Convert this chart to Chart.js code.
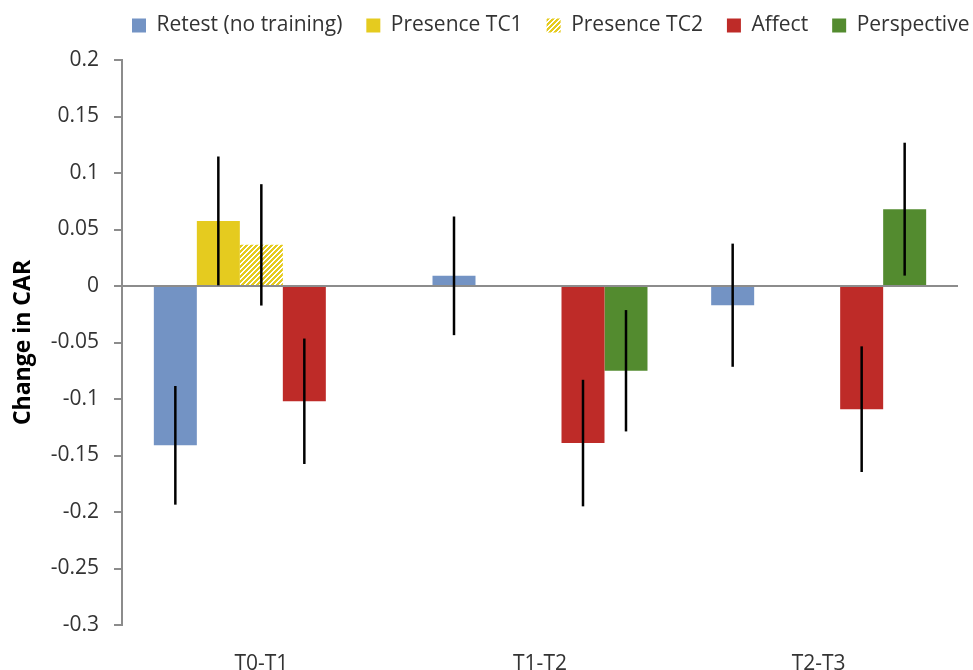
<!DOCTYPE html>
<html>
<head>
<meta charset="utf-8">
<script src="https://cdn.jsdelivr.net/npm/chart.js@4/dist/chart.umd.min.js"></script>
<style>
  html, body { margin: 0; padding: 0; background: #fff; }
  #wrap { width: 973px; height: 670px; }
</style>
</head>
<body>
<div id="wrap"><canvas id="c" width="973" height="670"></canvas></div>
<script>
// ---- data ----
const categories = ['T0-T1', 'T1-T2', 'T2-T3'];
const seriesNames = ['Retest (no training)', 'Presence TC1', 'Presence TC2', 'Affect', 'Perspective'];
const retest = [-0.141, 0.009, -0.017];
const retestErr = [0.0525, 0.0525, 0.0545];
const presenceTC1 = [0.0576, null, null];
const presenceTC1Err = [0.057, null, null];
const presenceTC2 = [0.0364, null, null];
const presenceTC2Err = [0.0537, null, null];
const affect = [-0.102, -0.139, -0.109];
const affectErr = [0.0555, 0.056, 0.0556];
const perspective = [null, -0.075, 0.068];
const perspectiveErr = [null, 0.0537, 0.0588];
const yTickLabels = ['0.2', '0.15', '0.1', '0.05', '0', '-0.05', '-0.1', '-0.15', '-0.2', '-0.25', '-0.3'];
const yTickValues = [0.2, 0.15, 0.1, 0.05, 0, -0.05, -0.1, -0.15, -0.2, -0.25, -0.3];

// ---- styles ----
const BLUE = '#7393C4', YELLOW = '#E5CB1F', RED = '#BE2B28', GREEN = '#538B2F', GRAY = '#8C8C8C';
const FONT = "'Open Sans', 'DejaVu Sans', sans-serif";

function makeHatch(color) {
  const n = 5;
  const c = document.createElement('canvas');
  c.width = n; c.height = n;
  const x = c.getContext('2d');
  x.fillStyle = '#ffffff';
  x.fillRect(0, 0, n, n);
  x.fillStyle = color;
  for (let i = 0; i < n; i++) for (let j = 0; j < n; j++) if ((i + j) % n < 3) x.fillRect(i, j, 1, 1);
  return x.createPattern(c, 'repeat');
}

const errorBars = {
  id: 'errorBars',
  afterDatasetsDraw(chart) {
    const ctx = chart.ctx, y = chart.scales.y;
    chart.data.datasets.forEach((ds, i) => {
      const meta = chart.getDatasetMeta(i);
      meta.data.forEach((bar, j) => {
        const v = ds.data[j], e = ds.errors[j];
        if (v == null || e == null) return;
        const top = y.getPixelForValue(v + e), bot = y.getPixelForValue(v - e);
        ctx.save();
        ctx.strokeStyle = '#000';
        ctx.lineWidth = 2.5;
        ctx.beginPath();
        ctx.moveTo(bar.x, top);
        ctx.lineTo(bar.x, bot);
        ctx.stroke();
        ctx.restore();
      });
    });
  }
};

const legendPlace = {
  id: 'legendPlace',
  beforeDraw(chart) {
    const l = chart.legend;
    if (!l) return;
    const pad = l.options.labels.padding;
    const h = l.height;
    l.left = 132 - pad;
    l.right = 1200;
    l.top = 15 - pad;
    l.bottom = l.top + h;
  }
};

new Chart(document.getElementById('c'), {
  type: 'bar',
  data: {
    labels: categories,
    datasets: [
      { label: seriesNames[0], data: retest, errors: retestErr, backgroundColor: BLUE },
      { label: seriesNames[1], data: presenceTC1, errors: presenceTC1Err, backgroundColor: YELLOW },
      { label: seriesNames[2], data: presenceTC2, errors: presenceTC2Err, backgroundColor: makeHatch(YELLOW) },
      { label: seriesNames[3], data: affect, errors: affectErr, backgroundColor: RED },
      { label: seriesNames[4], data: perspective, errors: perspectiveErr, backgroundColor: GREEN }
    ]
  },
  options: {
    responsive: false,
    animation: false,
    devicePixelRatio: 1,
    layout: { padding: { top: 5, right: 15, bottom: 0, left: 0 } },
    datasets: { bar: { categoryPercentage: 0.7715, barPercentage: 1.0, borderWidth: 0 } },
    plugins: {
      legend: {
        position: 'top',
        align: 'start',
        labels: {
          boxWidth: 14, boxHeight: 14, padding: 24,
          color: '#333333',
          font: { family: FONT, size: 21 }
        }
      },
      tooltip: { enabled: false }
    },
    scales: {
      x: {
        grid: { display: false },
        border: { display: false },
        ticks: { color: '#333333', font: { family: FONT, size: 21 }, padding: 18 },
        afterFit(s) { s.height = 45; }
      },
      y: {
        min: -0.3, max: 0.2,
        afterBuildTicks(s) { s.ticks = yTickValues.slice().reverse().map(v => ({ value: v })); },
        ticks: {
          color: '#333333',
          font: { family: FONT, size: 21 },
          padding: 15,
          callback(v) {
            const k = yTickValues.findIndex(t => Math.abs(t - v) < 1e-9);
            return k >= 0 ? yTickLabels[k] : '';
          }
        },
        grid: {
          color: c => (c.tick && Math.abs(c.tick.value) < 1e-9) ? GRAY : 'rgba(0,0,0,0)',
          lineWidth: 2,
          tickColor: GRAY,
          tickLength: 8,
          drawTicks: true
        },
        border: { display: true, color: GRAY, width: 2 },
        title: {
          display: true,
          text: 'Change in CAR',
          color: '#000000',
          font: { family: FONT, size: 23, weight: 'bold' },
          padding: { top: 10, bottom: 0 }
        },
        afterFit(s) { s.width = 122; }
      }
    }
  },
  plugins: [errorBars, legendPlace]
});
</script>
</body>
</html>
